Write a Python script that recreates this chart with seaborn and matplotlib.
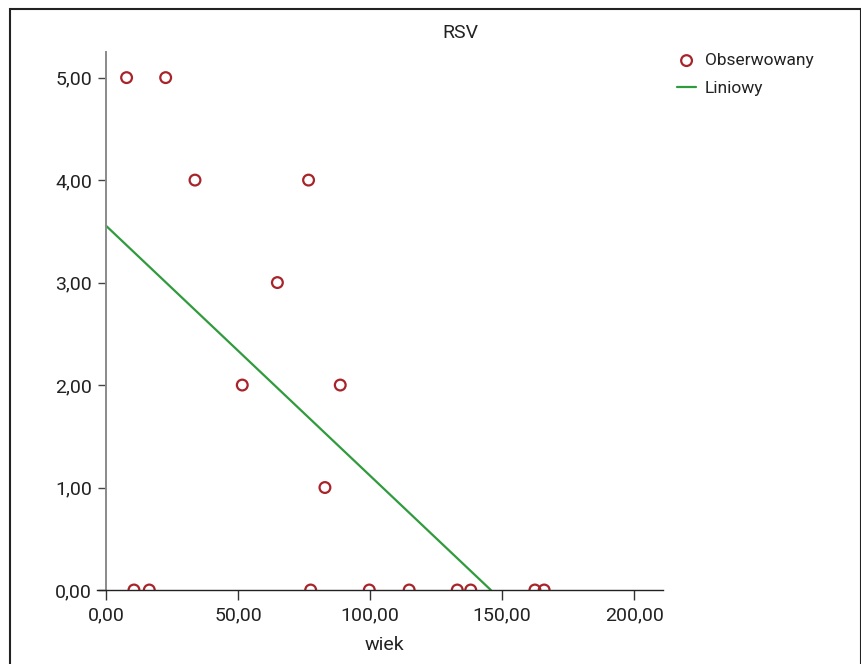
import matplotlib
matplotlib.use("Agg")
import matplotlib.pyplot as plt
import matplotlib.ticker as mticker
from matplotlib.patches import Rectangle
from matplotlib import font_manager
import seaborn as sns
import pandas as pd

# ---- data ----
wiek = [7.8, 22.6, 33.7, 76.7, 64.9, 51.6, 88.7, 82.9,
        10.6, 16.4, 77.5, 99.7, 114.8, 133.0, 138.1, 162.4, 165.9]
rsv = [5, 5, 4, 4, 3, 2, 2, 1,
       0, 0, 0, 0, 0, 0, 0, 0, 0]
fit_x = [0.0, 145.7]
fit_y = [3.555, 0.0]
x_ticks = [0, 50, 100, 150, 200]
y_ticks = [0, 1, 2, 3, 4, 5]
title = "RSV"
xlabel = "wiek"
series_labels = ["Obserwowany", "Liniowy"]

sns.set_style("white")
names = {f.name for f in font_manager.fontManager.ttflist}
fam = "Liberation Sans Narrow" if "Liberation Sans Narrow" in names else "Roboto"
plt.rcParams["font.family"] = [fam, "DejaVu Sans"]

W, H = 862, 664
fig = plt.figure(figsize=(W / 100, H / 100), dpi=100)
ax = fig.add_axes([97 / W, 1 - 590 / H, (663 - 97) / W, (590 - 52) / H])

df = pd.DataFrame({"wiek": wiek, "rsv": rsv})
fit = pd.DataFrame({"x": fit_x, "y": fit_y})

red = "#A8232A"
green = "#2F9B3C"
sns.scatterplot(data=df, x="wiek", y="rsv", ax=ax, marker="o", s=60,
                facecolor="none", edgecolor=red, linewidth=1.6,
                label=series_labels[0], zorder=2.2)
sns.lineplot(data=fit, x="x", y="y", ax=ax, color=green, linewidth=1.6,
             label=series_labels[1], zorder=2.1)
for c in ax.collections:
    c.set_clip_on(True)
    c.set_clip_path(ax.patch)

ax.set_xlim(-3.4, 210.9)
ax.set_ylim(0, 5.25)
ax.set_xticks(x_ticks)
ax.set_yticks(y_ticks)
fmt = mticker.FuncFormatter(lambda v, p: f"{v:.2f}".replace(".", ","))
ax.xaxis.set_major_formatter(fmt)
ax.yaxis.set_major_formatter(fmt)
ax.set_xlabel("")
ax.set_ylabel("")

for s in ["top", "right"]:
    ax.spines[s].set_visible(False)
ax.spines["left"].set_position(("data", 0))
ax.spines["left"].set_color("#8a8a8a")
ax.spines["left"].set_linewidth(1.4)
ax.spines["bottom"].set_color("#222222")
ax.spines["bottom"].set_linewidth(1.0)

ax.tick_params(axis="x", direction="out", length=7.5, width=1.0, color="#333333",
               labelsize=14, labelcolor="#222222", pad=4, bottom=True)
ax.tick_params(axis="y", direction="out", length=6, width=1.0, color="#444444",
               labelsize=14, labelcolor="#222222", pad=4, left=True)

fig.text(460 / W, 1 - 33 / H, title, ha="center", va="center", fontsize=14, color="#222222")
fig.text(384 / W, 1 - 645 / H, xlabel, ha="center", va="center", fontsize=14, color="#222222")

leg = ax.legend(loc="upper left", bbox_to_anchor=(677 / W, 1 - 53 / H),
                bbox_transform=fig.transFigure, frameon=False, fontsize=12.5,
                handlelength=1.1, handletextpad=0.5, labelspacing=0.75,
                borderpad=0, borderaxespad=0)
for t in leg.get_texts():
    t.set_color("#222222")

fig.patches.append(Rectangle((10.5 / W, -0.05), (861 - 10.5) / W, (H - 8.5) / H + 0.05,
                             transform=fig.transFigure, fill=False,
                             edgecolor="#222222", linewidth=1.5))

fig.savefig("out.png", dpi=100)
